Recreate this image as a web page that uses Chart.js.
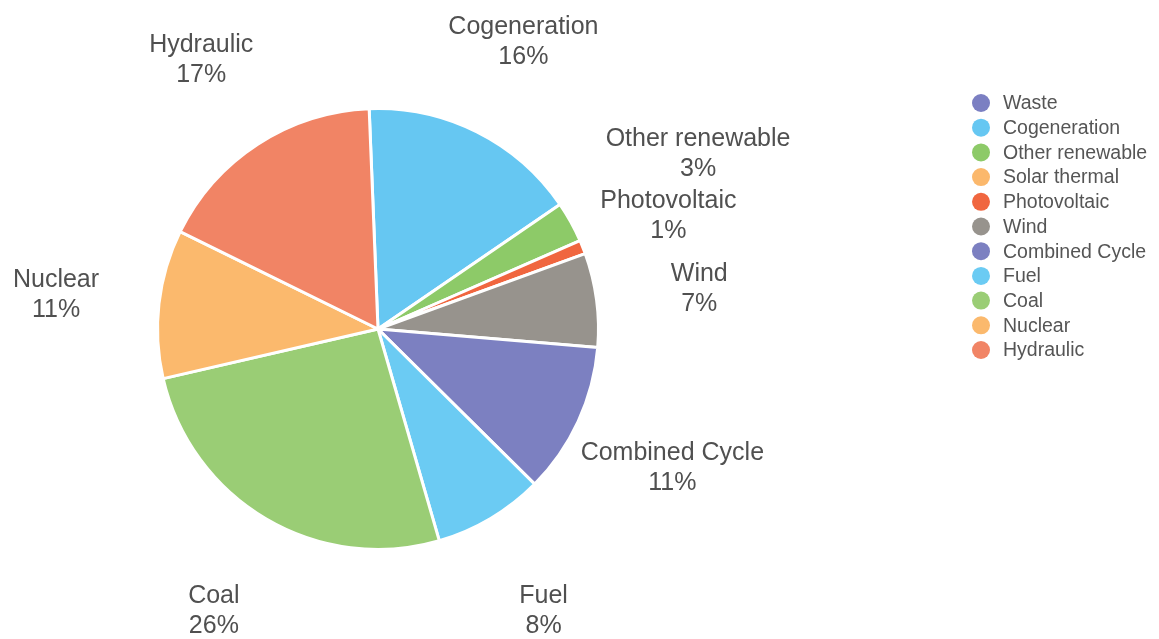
<!DOCTYPE html>
<html>
<head>
<meta charset="utf-8">
<script src="https://cdn.jsdelivr.net/npm/chart.js@4.4.0/dist/chart.umd.min.js"></script>
<style>
  html, body { margin: 0; padding: 0; background: #fff; }
  #wrap { width: 1159px; height: 639px; position: relative; }
</style>
</head>
<body>
<div id="wrap"><canvas id="pie__chart"></canvas></div>
<script>
// data (share of generation, %)
const sources = ['Waste', 'Cogeneration', 'Other renewable', 'Solar thermal', 'Photovoltaic',
  'Wind', 'Combined Cycle', 'Fuel', 'Coal', 'Nuclear', 'Hydraulic'];
const shares = [0, 16.1, 3.0, 0, 1.0, 6.9, 11.1, 8.1, 25.9, 10.9, 17.1];
const colors = ['#7b7fc2', '#66c7f2', '#8dca68', '#fbb86c', '#f0663f',
  '#97938d', '#7c80c1', '#6bcbf3', '#9acd75', '#fbb96d', '#f18465'];

const labelFont = '25px "Liberation Sans", Arial, sans-serif';
const legendFont = '19.5px "Liberation Sans", Arial, sans-serif';

// percent labels around the pie, pushed apart when they collide
const sliceLabels = {
  id: 'sliceLabels',
  afterDatasetsDraw(chart) {
    const ctx = chart.ctx;
    const arcs = chart.getDatasetMeta(0).data;
    const total = shares.reduce((a, b) => a + b, 0);
    ctx.save();
    ctx.font = labelFont;
    const boxes = [];
    arcs.forEach((arc, i) => {
      if (!shares[i]) return;
      const mid = (arc.startAngle + arc.endAngle) / 2;
      const w = ctx.measureText(sources[i]).width;
      boxes.push({ i, mid, w, h: 60, r: arc.outerRadius * 1.47, cx: arc.x, cy: arc.y + 3 });
    });
    const pos = b => ({ x: b.cx + Math.cos(b.mid) * b.r, y: b.cy + Math.sin(b.mid) * b.r });
    const hit = (a, b) => {
      const p = pos(a), q = pos(b);
      return Math.abs(p.x - q.x) < (a.w + b.w) / 2 && Math.abs(p.y - q.y) < (a.h + b.h) / 2;
    };
    for (let k = 1; k < boxes.length; k++) {
      let n = 0;
      while (hit(boxes[k - 1], boxes[k]) && n < 200) {
        boxes[k - 1].r += 2.2;
        boxes[k].r -= 0.6;
        n++;
      }
    }
    ctx.fillStyle = '#505050';
    ctx.textAlign = 'center';
    ctx.textBaseline = 'middle';
    boxes.forEach(b => {
      const p = pos(b);
      ctx.fillText(sources[b.i], p.x, p.y - 15);
      ctx.fillText(Math.round(shares[b.i] / total * 100) + '%', p.x, p.y + 15);
    });
    ctx.restore();
  }
};

// legend on the right
const sideLegend = {
  id: 'sideLegend',
  afterDraw(chart) {
    const ctx = chart.ctx;
    ctx.save();
    ctx.font = legendFont;
    ctx.textBaseline = 'middle';
    sources.forEach((s, i) => {
      const y = 103 + i * 24.7;
      ctx.fillStyle = colors[i];
      ctx.beginPath();
      ctx.arc(981, y, 9, 0, Math.PI * 2);
      ctx.fill();
      ctx.fillStyle = '#555';
      ctx.fillText(s, 1003, y + 1);
    });
    ctx.restore();
  }
};

const chartConfig = {
  type: 'pie',
  data: {
    labels: sources,
    datasets: [{
      data: shares,
      backgroundColor: colors,
      borderColor: '#fff',
      borderWidth: 3
    }]
  },
  options: {
    responsive: false,
    animation: false,
    rotation: -2.3,
    layout: { padding: { left: 156, right: 559, top: 107, bottom: 88 } },
    plugins: {
      legend: { display: false },
      tooltip: { enabled: false }
    }
  },
  plugins: [sliceLabels, sideLegend]
};

const canvas = document.getElementById('pie__chart');
canvas.width = 1159;
canvas.height = 639;
const chart = new Chart(canvas, chartConfig);
</script>
</body>
</html>
